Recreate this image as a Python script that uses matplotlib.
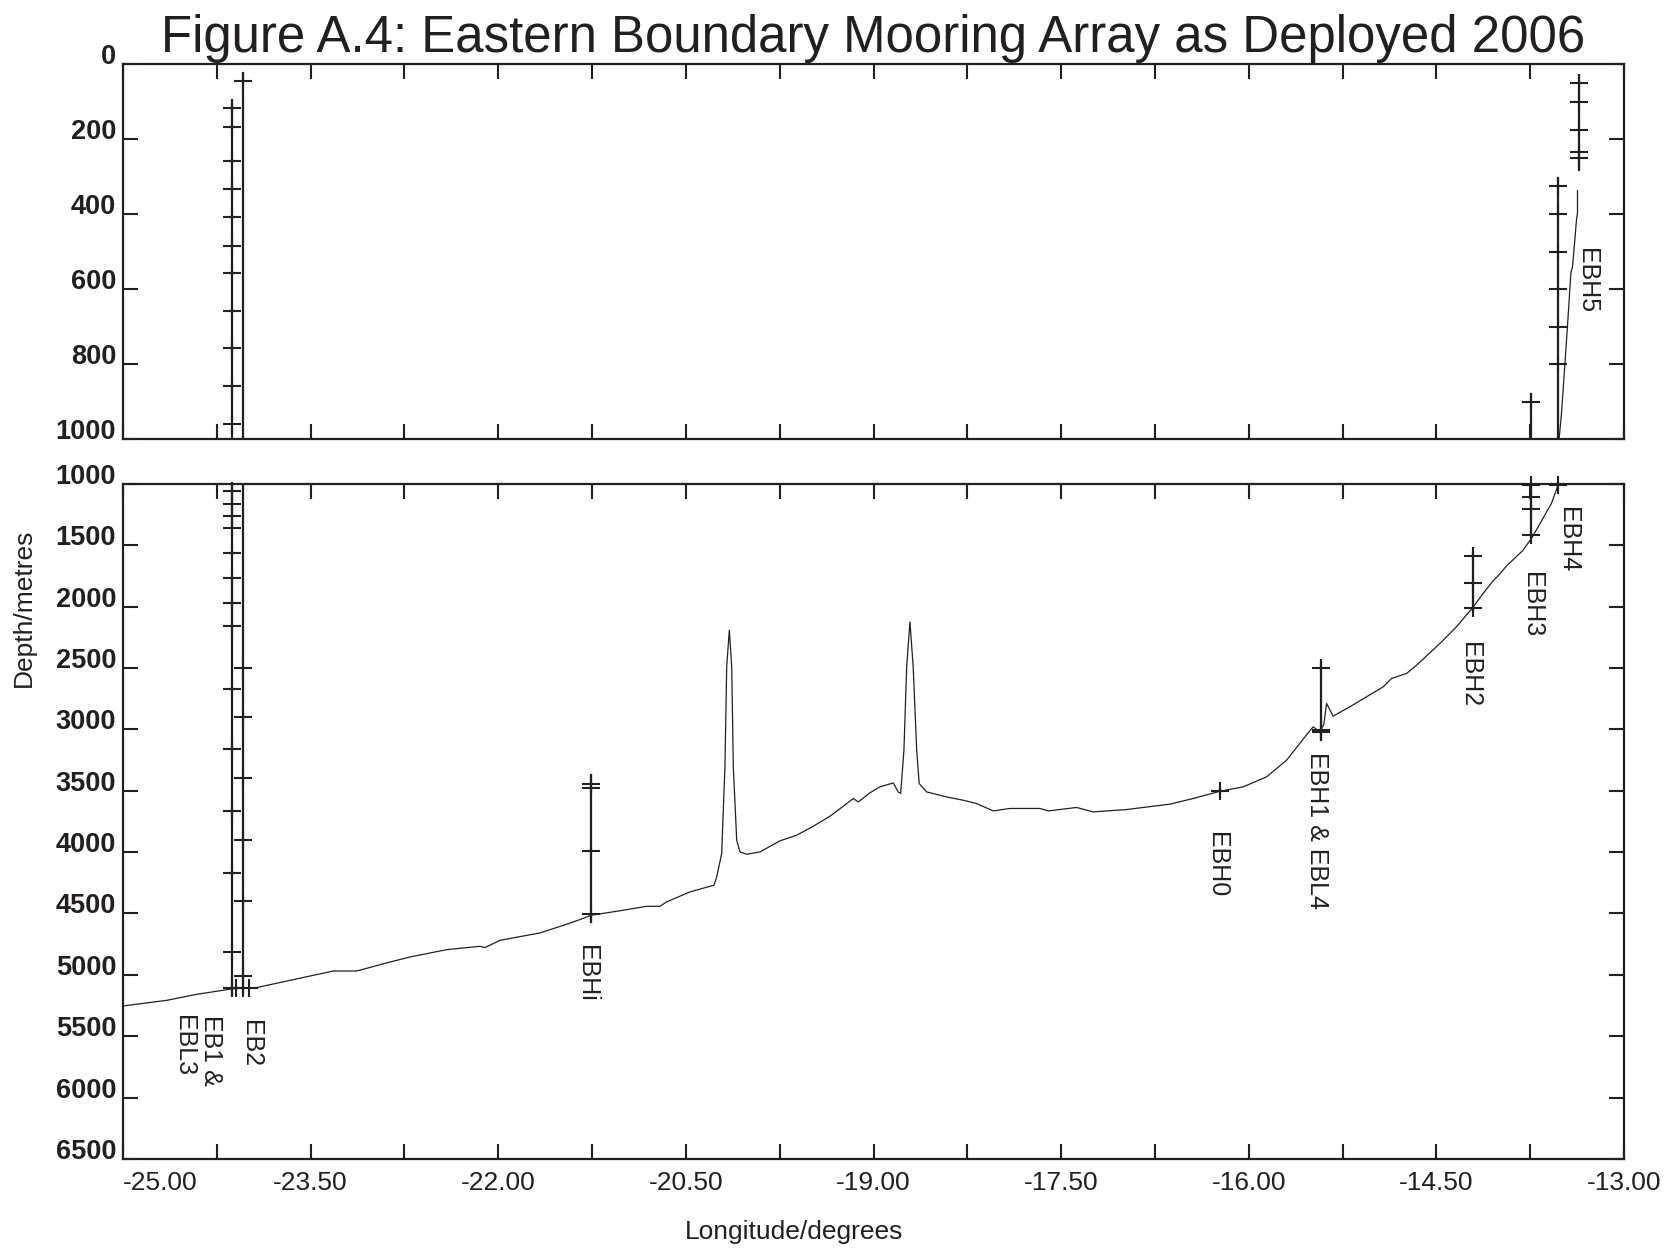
import matplotlib.pyplot as plt
import numpy as np

plt.rcParams["font.family"] = ["Liberation Sans", "DejaVu Sans"]

INK = "#231f20"

# bathymetry along the section: longitude (deg) and depth (m)
bathy_lon = [
    -25.000, -24.651, -24.411, -24.118, -23.931, -23.665, -23.319, -23.132,
    -22.866, -22.706, -22.412, -22.146, -22.106, -21.986, -21.667, -21.480,
    -21.347, -21.259, -21.000, -20.814, -20.707, -20.654, -20.468, -20.308,
    -20.276, -20.254, -20.214, -20.188, -20.174, -20.153, -20.134, -20.121,
    -20.094, -20.068, -20.014, -19.908, -19.748, -19.615, -19.482, -19.348,
    -19.242, -19.162, -19.122, -19.029, -18.949, -18.842, -18.803, -18.783,
    -18.757, -18.735, -18.709, -18.683, -18.655, -18.635, -18.576, -18.416,
    -18.283, -18.176, -18.043, -17.910, -17.670, -17.603, -17.377, -17.244,
    -16.977, -16.631, -16.444, -16.231, -16.045, -15.858, -15.698, -15.551,
    -15.485, -15.432, -15.400, -15.378, -15.325, -15.192, -14.925, -14.858,
    -14.738, -14.658, -14.472, -14.339, -14.211, -14.126, -14.050, -13.993,
    -13.940, -13.810, -13.740, -13.686, -13.580, -13.527, -13.519, -13.500,
    -13.474, -13.447, -13.425, -13.412, -13.393, -13.380, -13.372, -13.372,
]
bathy_depth = [
    5254, 5208, 5159, 5113, 5104, 5045, 4969, 4969,
    4896, 4855, 4795, 4768, 4778, 4719, 4659, 4597,
    4550, 4515, 4474, 4442, 4442, 4406, 4325, 4279,
    4271, 4203, 4012, 3306, 2491, 2192, 2491, 3306,
    3904, 3999, 4018, 3999, 3909, 3863, 3790, 3708,
    3627, 3564, 3592, 3518, 3469, 3437, 3510, 3523,
    3170, 2491, 2125, 2491, 3170, 3442, 3510, 3551,
    3578, 3605, 3665, 3645, 3645, 3665, 3637, 3673,
    3654, 3610, 3564, 3505, 3469, 3388, 3252, 3062,
    2980, 3021, 2960, 2790, 2893, 2817, 2654, 2586,
    2545, 2478, 2301, 2165, 2011, 1893, 1795, 1735,
    1670, 1545, 1445, 1350, 1160, 1010, 1000, 931,
    806, 673, 557, 540, 468, 415, 397, 337,
]

# moorings: longitude, wire top, wire bottom, instrument depths
mooring_names = ["EB1", "EB2", "EBHi", "EBH0", "EBH1", "EBH2", "EBH3", "EBH4", "EBH5"]
mooring_lon = [-24.13, -24.04, -21.259, -16.231, -15.419, -14.211, -13.74, -13.527, -13.357]
mooring_top = [100, 24, 3374, 3490, 2450, 1560, 879, 304, 30]
mooring_bottom = [5165, 5150, 4570, 3520, 3089, 2040, 1430, 1015, 282]
instrument_depths = [
    [116, 168, 258, 333, 408, 484, 556, 658, 757, 858, 959, 1060, 1165, 1264,
     1364, 1568, 1767, 1968, 2158, 2669, 3161, 3663, 4168, 4814, 5104],
    [45, 2500, 2899, 3401, 3898, 4398, 5012, 5104],
    [3442, 3482, 3991, 4501],
    [3505],
    [2504, 3007, 3021],
    [1590, 1807, 2011],
    [900, 1010, 1106, 1209, 1418],
    [324, 399, 500, 600, 700, 799, 1010],
    [51, 100, 175, 233, 251],
]

# landers on the seabed next to the tall moorings
lander_lon = [-24.10, -23.99]
lander_depth = [5104, 5104]

# station labels (top of rotated text)
label_text = ["EBH5", "EBH4", "EBH3", "EBH2", "EBH1 & EBL4", "EBH0", "EBHi", "EB2", "EB1 &\nEBL3"]
label_lon = [-13.293, -13.449, -13.733, -14.235, -15.458, -16.257, -21.287, -23.978, -24.404]
label_depth = [490, 1187, 1717, 2288, 3184, 3836, 4760, 5371, 5330]

xticks = np.arange(-25.0, -12.99, 0.75)
xtick_labels = ["-25.00", "", "-23.50", "", "-22.00", "", "-20.50", "", "-19.00",
                "", "-17.50", "", "-16.00", "", "-14.50", "", "-13.00"]
top_yticks = [0, 200, 400, 600, 800, 1000]
bot_yticks = [1000, 1500, 2000, 2500, 3000, 3500, 4000, 4500, 5000, 5500, 6000, 6500]

fig = plt.figure(figsize=(16.72, 12.49), dpi=100)
ax_top = fig.add_axes([0.0736, 0.6483, 0.8977, 0.3002])
ax_bot = fig.add_axes([0.0736, 0.0721, 0.8977, 0.5406])

panels = [(ax_top, (1000, 0), top_yticks), (ax_bot, (6500, 1000), bot_yticks)]
for ax, ylim, yticks in panels:
    lo, hi = ylim[1], ylim[0]
    ax.plot(bathy_lon, bathy_depth, color=INK, lw=0.9)

    for lon, top, bot, depths in zip(mooring_lon, mooring_top, mooring_bottom, instrument_depths):
        ax.plot([lon, lon], [top, bot], color=INK, lw=1.6)
        inside = [d for d in depths if lo <= d <= hi]
        if inside:
            ax.plot([lon] * len(inside), inside, "+", color=INK, ms=13, mew=1.5,
                    clip_on=False)
    lander_in = [(x, d) for x, d in zip(lander_lon, lander_depth) if lo <= d <= hi]
    if lander_in:
        ax.plot([p[0] for p in lander_in], [p[1] for p in lander_in], "+",
                color=INK, ms=13, mew=1.5, clip_on=False)

    for txt, lon, dep in zip(label_text, label_lon, label_depth):
        if lo <= dep <= hi:
            ax.text(lon, dep, txt, rotation=270, ha="center", va="top",
                    multialignment="left", fontsize=18, color=INK,
                    linespacing=1.15)

    ax.set_xlim(-25, -13)
    ax.set_ylim(*ylim)
    ax.set_xticks(xticks)
    ax.set_yticks(yticks, labels=[str(t) for t in yticks], fontsize=19.5,
                  fontweight="bold", va="baseline", color=INK)
    ax.tick_params(direction="in", length=11, width=1.5, top=True, right=True,
                   color=INK)
    ax.tick_params(axis="y", pad=5)
    for s in ax.spines.values():
        s.set_linewidth(1.6)
        s.set_color(INK)

ax_top.set_xticklabels([])
ax_bot.set_xticklabels(xtick_labels, fontsize=19, color=INK)
ax_bot.tick_params(axis="x", pad=9)
ax_bot.get_xticklabels()[0].set_ha("left")

fig.text(0.522, 0.958, "Figure A.4: Eastern Boundary Mooring Array as Deployed 2006",
         ha="center", va="baseline", fontsize=36.7, color=INK)
fig.text(0.014, 0.513, "Depth/metres", rotation=90, ha="center", va="center",
         fontsize=19, color=INK)
fig.text(0.475, 0.0139, "Longitude/degrees", ha="center", va="center",
         fontsize=19, color=INK)

fig.savefig("out.png", dpi=100)
